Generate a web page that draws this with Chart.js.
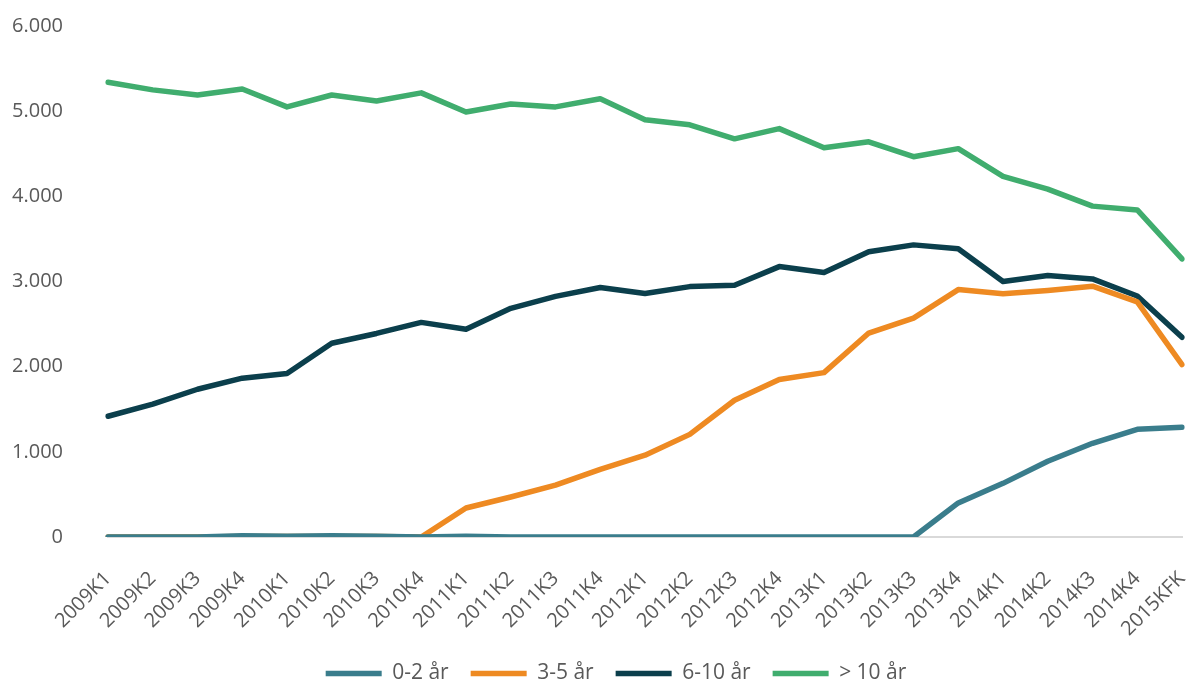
<!DOCTYPE html>
<html>
<head>
<meta charset="utf-8">
<script src="https://cdn.jsdelivr.net/npm/chart.js@4"></script>
<style>
  html, body { margin: 0; padding: 0; background: #fff; }
  #wrap { width: 1192px; height: 684px; }
</style>
</head>
<body>
<div id="wrap"><canvas id="chart"></canvas></div>
<script>
// kvartaler
var categories = ['2009K1','2009K2','2009K3','2009K4','2010K1','2010K2','2010K3','2010K4',
  '2011K1','2011K2','2011K3','2011K4','2012K1','2012K2','2012K3','2012K4',
  '2013K1','2013K2','2013K3','2013K4','2014K1','2014K2','2014K3','2014K4','2015KFK'];

var age0to2 = [0,0,0,15,10,15,10,0, 10,0,0,0,0,0,0,0, 0,0,0,400,630,890,1100,1265,1290];
var age3to5 = [0,0,0,5,5,5,5,0, 340,470,610,795,960,1205,1605,1850, 1930,2395,2570,2905,2855,2895,2945,2760,2025];
var age6to10 = [1418,1560,1735,1865,1920,2275,2390,2520, 2440,2685,2825,2930,2860,2940,2955,3175, 3105,3350,3430,3385,3000,3070,3030,2830,2345];
var age10plus = [5340,5250,5190,5260,5050,5190,5120,5215, 4990,5085,5050,5145,4900,4840,4675,4795, 4570,4640,4465,4560,4235,4085,3885,3840,3265];

var yTicks = [0,1000,2000,3000,4000,5000,6000];

var fontFamily = "'Open Sans', 'Liberation Sans', sans-serif";
var textColor = '#595959';

function mkSet(label, data, color) {
  return {
    label: label,
    data: data,
    borderColor: color,
    backgroundColor: color,
    borderWidth: 5.5,
    borderCapStyle: 'round',
    borderJoinStyle: 'round',
    pointRadius: 0,
    pointHoverRadius: 0,
    tension: 0,
    fill: false
  };
}

// legend sits a bit right of centre in the original
var legendShift = {
  id: 'legendShift',
  afterLayout: function (chart) {
    chart.legend.left += 25;
    chart.legend.right += 25;
  }
};

var ctx = document.getElementById('chart');
var chart = new Chart(ctx, {
  type: 'line',
  data: {
    labels: categories,
    datasets: [
      mkSet('0-2 år', age0to2, '#3A7D8C'),
      mkSet('3-5 år', age3to5, '#EE8A22'),
      mkSet('6-10 år', age6to10, '#0B3F4C'),
      mkSet('> 10 år', age10plus, '#40AD6E')
    ]
  },
  options: {
    responsive: true,
    maintainAspectRatio: false,
    animation: false,
    layout: { padding: { top: 26, right: 10, bottom: -10, left: 0 } },
    scales: {
      x: {
        offset: false,
        afterFit: function (scale) {
          scale.height = 104;
          scale.paddingLeft = 0;
          scale.paddingRight = 0;
        },
        grid: { display: false, drawTicks: false },
        border: { display: true, color: '#d9d9d9', width: 2 },
        ticks: {
          color: textColor,
          font: { family: fontFamily, size: 20 },
          minRotation: 45,
          maxRotation: 45,
          autoSkip: false,
          padding: 30
        }
      },
      y: {
        min: 0,
        max: 6000,
        afterBuildTicks: function (scale) {
          scale.ticks = yTicks.map(function (v) { return { value: v }; });
        },
        afterFit: function (scale) {
          scale.width = 108;
          scale.paddingTop = 0;
          scale.paddingBottom = 0;
        },
        grid: { display: false, drawTicks: false },
        border: { display: false },
        ticks: {
          color: textColor,
          font: { family: fontFamily, size: 20 },
          padding: 45,
          callback: function (v) { return v.toLocaleString('da-DK'); }
        }
      }
    },
    plugins: {
      tooltip: { enabled: false },
      legend: {
        position: 'bottom',
        labels: {
          color: textColor,
          font: { family: fontFamily, size: 21 },
          usePointStyle: true,
          pointStyle: 'line',
          pointStyleWidth: 56,
          boxHeight: 21,
          padding: 22
        }
      }
    }
  },
  plugins: [legendShift]
});
</script>
</body>
</html>
